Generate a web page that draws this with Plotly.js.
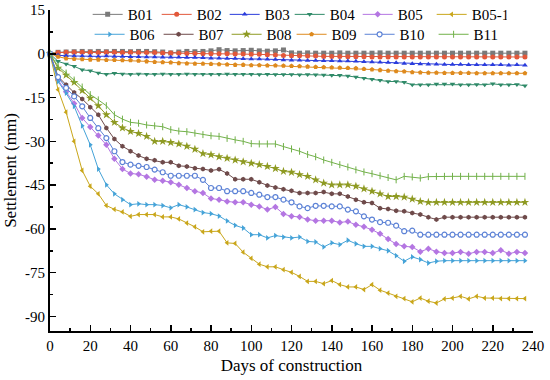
<!DOCTYPE html>
<html>
<head>
<meta charset="utf-8">
<script src="https://cdn.plot.ly/plotly-3.0.1.min.js"></script>
<style>html,body{margin:0;padding:0;background:#fff;}#chart{width:550px;height:380px;}</style>
</head>
<body>
<div id="chart"></div>
<script>
const days = [0,4,8,12,16,20,24,28,32,36,40,44,48,52,56,60,64,68,72,76,80,84,88,92,96,100,104,108,112,116,120,124,128,132,136,140,144,148,152,156,160,164,168,172,176,180,184,188,192,196,200,204,208,212,216,220,224,228,232,236];

const seriesNames = ["B01","B02","B03","B04","B05","B05-1","B06","B07","B08","B09","B10","B11"];

const B01 = [0,0.5,0.6,0.7,0.8,0.7,0.8,0.7,0.8,0.8,0.7,0.8,0.8,0.7,0.6,0.3,0.6,0.8,0.7,0.8,1.0,1.4,1.1,1.0,1.1,1.2,1.0,0.9,1.0,1.3,0.3,0.2,0.3,0.2,0.2,0.2,0.3,0.2,0.2,0.2,0.2,0.3,0.2,0.2,0.2,0.2,0.2,0.2,0.2,0.2,0.2,0.2,0.2,0.2,0.2,0.2,0.2,0.2,0.2,0.2];
const B02 = [0,0.4,0.5,0.5,0.5,0.5,0.4,0.5,0.5,0.4,0.5,0.4,0.4,0.4,0.3,0.3,0.2,0.1,0.1,0,0,0,0,-0.1,-0.1,-0.2,-0.2,-0.3,-0.4,-0.6,-0.7,-0.7,-0.8,-0.8,-0.9,-0.9,-0.9,-1.0,-1.0,-1.0,-1.1,-1.1,-1.1,-1.1,-1.1,-1.1,-1.1,-1.1,-1.1,-1.1,-1.1,-1.1,-1.1,-1.1,-1.1,-1.1,-1.1,-1.1,-1.1,-1.1];
const B03 = [0,-0.5,-0.7,-0.8,-0.8,-0.8,-0.9,-0.8,-0.9,-0.9,-1.0,-1.0,-1.1,-1.1,-1.2,-1.2,-1.2,-1.3,-1.3,-1.4,-1.5,-1.5,-1.6,-1.6,-1.7,-1.8,-1.8,-1.9,-2.0,-2.1,-2.2,-2.2,-2.3,-2.3,-2.4,-2.4,-2.5,-2.5,-2.6,-2.7,-2.8,-2.9,-3.0,-3.1,-3.3,-3.4,-3.5,-3.6,-3.6,-3.7,-3.7,-3.7,-3.8,-3.8,-3.8,-3.8,-3.8,-3.9,-3.8,-3.9];
const B04 = [0,-2.6,-3.5,-4.3,-5.5,-5.8,-6.6,-7.0,-6.7,-6.9,-7.0,-6.9,-7.0,-7.0,-6.9,-7.0,-7.0,-6.9,-7.0,-7.0,-7.0,-7.0,-6.9,-7.0,-7.0,-7.0,-7.1,-7.0,-7.1,-7.1,-7.1,-7.2,-7.1,-7.2,-7.3,-7.4,-7.4,-7.6,-8.0,-8.4,-8.7,-9.1,-9.5,-9.5,-9.8,-10.6,-10.6,-10.6,-10.4,-10.4,-10.4,-10.6,-10.6,-10.5,-10.6,-10.3,-10.6,-10.6,-10.5,-11.0];
const B05 = [0,-9.0,-13.0,-17.0,-22.0,-25.1,-28.0,-31.2,-36.0,-39.5,-41.0,-41.3,-42.1,-43.2,-43.5,-44.0,-44.9,-46.0,-47.1,-47.7,-49.6,-50.0,-50.6,-50.9,-50.9,-51.7,-52.3,-53.4,-52.5,-54.9,-55.7,-55.9,-56.8,-57.2,-57.2,-57.2,-57.8,-57.5,-58.6,-59.3,-60.3,-61.7,-63.5,-65.2,-66.0,-66.2,-67.8,-66.8,-67.8,-68.3,-68.3,-67.9,-68.5,-67.9,-67.9,-68.3,-67.3,-68.5,-67.9,-68.3];
const B05_1 = [0,-12.3,-20.0,-30.0,-40.0,-45.4,-48.0,-52.0,-53.3,-54.2,-55.7,-55.1,-55.1,-55.1,-55.9,-55.9,-56.6,-58.0,-59.3,-61.0,-60.8,-60.8,-64.8,-65.0,-68.0,-70.1,-72.1,-73.0,-73.0,-74.0,-74.9,-76.3,-78.0,-78.0,-78.8,-77.7,-79.1,-79.9,-79.9,-80.8,-79.1,-81.0,-82.0,-83.1,-83.9,-85.0,-83.7,-84.8,-85.4,-84.0,-83.7,-83.1,-84.0,-83.1,-83.7,-83.7,-83.9,-83.9,-83.9,-83.9];
const B06 = [0,-9.5,-13.5,-18.0,-24.7,-31.2,-39.5,-44.9,-48.0,-50.0,-51.7,-51.4,-51.7,-51.7,-52.0,-52.8,-51.7,-52.5,-53.4,-54.4,-54.8,-55.6,-57.3,-58.8,-59.7,-62.0,-62.0,-63.1,-62.3,-62.8,-63.1,-62.8,-64.3,-64.5,-66.2,-64.8,-65.4,-63.9,-65.1,-66.0,-66.0,-66.8,-67.5,-69.2,-71.1,-69.6,-70.5,-71.7,-71.1,-70.9,-70.9,-70.9,-70.9,-70.9,-70.9,-70.9,-70.9,-70.9,-70.9,-70.9];
const B07 = [0,-7.8,-10.6,-13.3,-15.5,-18.3,-20.9,-25.4,-29.2,-31.7,-33.4,-34.9,-36.0,-36.5,-37.2,-37.2,-38.4,-38.6,-39.2,-39.5,-40.0,-39.6,-41.0,-43.0,-43.0,-43.0,-44.0,-45.1,-45.8,-46.4,-46.9,-47.7,-47.7,-47.7,-47.4,-48.0,-48.0,-48.9,-50.0,-50.9,-51.1,-52.9,-53.2,-53.8,-54.0,-54.6,-55.1,-56.0,-56.8,-56.0,-56.0,-56.0,-56.0,-56.0,-56.0,-56.0,-56.0,-56.0,-56.0,-56.0];
const B08 = [0,-4.9,-7.3,-9.8,-12.6,-15.2,-17.8,-20.9,-23.5,-25.4,-26.6,-27.3,-28.3,-30.0,-30.0,-30.4,-30.9,-31.7,-32.7,-34.2,-34.6,-35.3,-35.8,-36.4,-37.0,-37.5,-38.0,-38.6,-39.3,-40.3,-40.6,-41.4,-42.0,-43.2,-44.3,-44.9,-44.9,-44.9,-45.4,-46.3,-47.1,-48.0,-48.9,-48.9,-49.1,-49.8,-50.6,-50.9,-50.9,-50.9,-50.9,-50.9,-50.9,-50.9,-50.9,-50.9,-50.9,-50.9,-50.9,-50.9];
const B09 = [0,-1.0,-1.6,-1.8,-1.9,-2.0,-2.0,-2.1,-2.1,-2.2,-2.2,-2.4,-2.6,-2.8,-2.9,-3.0,-3.2,-3.3,-3.4,-3.4,-3.5,-3.6,-3.7,-3.8,-3.8,-3.9,-3.9,-4.0,-4.0,-4.1,-4.2,-4.3,-4.4,-4.5,-4.6,-4.7,-4.8,-4.9,-5.0,-5.2,-5.4,-5.6,-5.8,-6.0,-6.1,-6.3,-6.4,-6.5,-6.5,-6.6,-6.6,-6.6,-6.6,-6.7,-6.7,-6.7,-6.7,-6.7,-6.7,-6.7];
const B10 = [0,-8.0,-11.7,-14.6,-18.0,-22.0,-25.5,-28.9,-33.4,-37.1,-38.0,-38.4,-38.8,-39.7,-40.6,-41.8,-41.8,-41.8,-41.8,-43.2,-46.0,-46.0,-47.1,-47.1,-47.1,-47.7,-48.3,-49.1,-49.1,-50.0,-50.9,-52.3,-52.9,-52.1,-52.1,-52.3,-52.3,-53.4,-54.0,-55.7,-56.8,-57.7,-57.9,-58.9,-60.8,-60.6,-62.0,-62.0,-62.0,-62.0,-62.0,-62.0,-62.0,-62.0,-62.0,-62.0,-62.0,-62.0,-62.0,-62.0];
const B11 = [0,-4.3,-6.6,-9.0,-11.4,-14.0,-15.8,-17.8,-20.9,-22.4,-23.5,-23.8,-24.4,-24.7,-25.0,-26.0,-26.5,-26.7,-27.2,-27.7,-28.1,-28.3,-29.0,-29.5,-30.0,-30.8,-30.9,-30.9,-30.9,-31.8,-32.6,-33.4,-34.5,-35.3,-36.4,-37.2,-38.0,-38.8,-39.8,-40.5,-41.1,-41.8,-42.4,-43.2,-42.0,-42.2,-42.6,-42.1,-42.0,-42.0,-42.0,-42.0,-42.0,-42.0,-42.0,-42.0,-42.0,-42.0,-42.0,-42.0];

const xTicks = [0,20,40,60,80,100,120,140,160,180,200,220,240];
const yTickVals = [15,0,-15,-30,-45,-60,-75,-90];
const yTickText = ["15","0","-15","-30","-45","-60","-75","-90"];

const values = [B01,B02,B03,B04,B05,B05_1,B06,B07,B08,B09,B10,B11];
const colors = ["#7a7a7a","#e2583a","#2a3cdc","#2f8a68","#b476e2","#c9a61a","#45a3d8","#6e4a4a","#8e9a22","#de8a1e","#5c82d6","#72b14a"];
const symbols = ["square","circle","triangle-up","triangle-down","diamond","triangle-left","triangle-right","hexagon","star","pentagon","circle","line-ns-open"];
const colWidths = [24,23,20,23,29,30];

const traces = values.map((v,i)=>{
  const isOpen = i===10;
  const isLine = i===11;
  return {
    x: days, y: v, name: seriesNames[i], type:'scatter', mode:'lines+markers',
    line:{color:colors[i], width:1},
    marker:{symbol:symbols[i], size: (symbols[i]==='star'?6.5:5),
            color: isOpen ? '#ffffff' : colors[i],
            line:{color:colors[i], width: isOpen?1.2:(isLine?1:0)}},
    legend: i<6 ? 'legend' : 'legend2',
    legendwidth: colWidths[i%6],
    cliponaxis:false
  };
});

const fontFam = 'Liberation Serif';
const legendCommon = {orientation:'h', xanchor:'left', yanchor:'top', bgcolor:'rgba(0,0,0,0)',
  font:{family:fontFam, size:15, color:'#000'}, itemwidth:30, tracegroupgap:0};

const layout = {
  width:550, height:380,
  margin:{l:50, r:17, t:10, b:49, autoexpand:false},
  paper_bgcolor:'#fff', plot_bgcolor:'#fff',
  font:{family:fontFam, color:'#000'},
  showlegend:true,
  legend: Object.assign({}, legendCommon, {x:0.078, y:1.037}),
  legend2: Object.assign({}, legendCommon, {x:0.082, y:0.975}),
  xaxis:{
    range:[0,240], tickmode:'array', tickvals:xTicks,
    ticks:'inside', ticklen:6, tickwidth:1.5, tickcolor:'#000',
    minor:{tickmode:'linear', tick0:0, dtick:10, ticks:'inside', ticklen:3, tickwidth:1.5, tickcolor:'#000'},
    showline:true, linewidth:2, linecolor:'#000', showgrid:false, zeroline:false,
    tickfont:{family:fontFam, size:15, color:'#000'},
    title:{text:'Days of construction', font:{family:fontFam, size:17, color:'#000'}, standoff:6},
    automargin:false
  },
  yaxis:{
    range:[-95,15], tickmode:'array', tickvals:yTickVals, ticktext:yTickText,
    ticks:'inside', ticklen:6, tickwidth:1.5, tickcolor:'#000',
    minor:{tickmode:'linear', tick0:0, dtick:7.5, ticks:'inside', ticklen:3, tickwidth:1.5, tickcolor:'#000'},
    showline:true, linewidth:2, linecolor:'#000', showgrid:false, zeroline:false,
    tickfont:{family:fontFam, size:15, color:'#000'},
    title:{text:'Settlement (mm)', font:{family:fontFam, size:17, color:'#000'}, standoff:4},
    automargin:false
  }
};

Plotly.newPlot('chart', traces, layout, {staticPlot:true, displayModeBar:false});
</script>
</body>
</html>
